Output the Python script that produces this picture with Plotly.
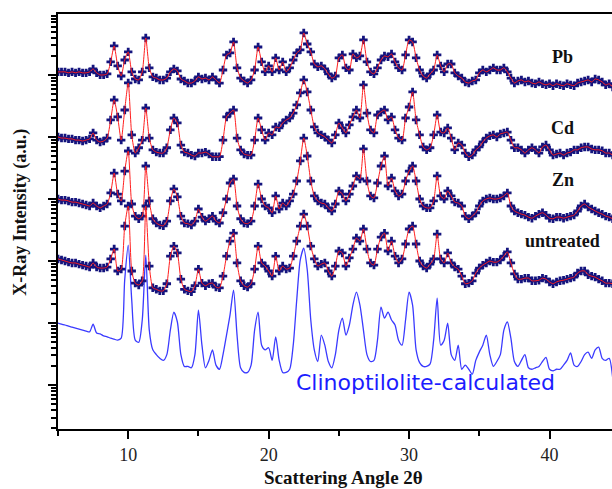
import plotly.graph_objects as go

# 2-theta sampling grid (degrees), 0.25 deg step from 5.0 to 44.5
two_theta = [5.0 + 0.25 * i for i in range(159)]

# Intensities (counts, arbitrary units)
pb_counts = [
    112,112,112,108,112,108,112,108,
    108,112,125,108,100,100,104,162,
    293,140,96,174,235,112,86,83,
    112,394,130,93,89,83,83,89,
    112,125,116,86,80,74,74,80,
    93,86,89,83,93,83,74,120,
    210,226,340,130,89,80,74,83,
    120,282,162,112,140,112,188,120,
    162,112,130,174,226,253,475,315,
    235,150,135,140,125,104,89,96,
    188,210,130,120,218,188,202,366,
    162,112,104,130,174,202,195,218,
    162,130,120,210,366,340,188,120,
    96,89,104,120,210,140,112,150,
    150,108,96,89,77,74,80,83,
    108,120,112,120,130,120,120,130,
    112,89,74,80,83,77,80,74,
    72,77,72,69,72,67,72,69,
    67,72,69,67,74,77,80,83,
    77,86,83,77,69,72,64,
]

cd_counts = [
    100,96,96,93,93,89,89,86,
    89,93,116,89,83,86,96,188,
    394,210,89,272,742,108,55,67,
    89,293,96,62,57,55,55,67,
    130,202,168,74,57,55,51,49,
    55,55,57,53,48,48,48,89,
    210,243,272,96,62,53,51,51,
    89,202,130,89,116,108,145,140,
    168,188,202,243,328,512,830,531,
    272,145,116,108,100,89,80,108,
    168,140,116,156,210,272,202,689,
    243,130,116,226,253,272,188,210,
    130,96,89,202,304,531,188,108,
    69,62,67,108,226,120,116,140,
    96,62,80,74,55,48,51,62,
    69,83,96,104,108,100,112,116,
    120,89,67,67,62,55,62,67,
    62,55,69,74,62,51,53,55,
    51,55,57,62,62,67,69,69,
    64,62,62,60,55,55,51,
]

zn_counts = [
    100,96,96,93,89,89,86,83,
    80,77,86,77,72,77,83,125,
    262,120,93,282,594,83,53,48,
    53,340,93,48,41,38,37,44,
    93,145,108,53,41,40,38,44,
    69,51,44,48,53,44,41,60,
    100,181,210,77,48,41,40,44,
    77,174,100,77,72,60,112,69,
    86,77,93,120,195,410,960,493,
    195,112,93,86,83,72,64,83,
    135,120,93,120,162,235,210,640,
    195,112,104,181,340,493,162,218,
    135,112,120,195,282,340,195,100,
    77,72,72,93,235,112,100,135,
    112,89,86,77,53,48,53,60,
    77,93,100,104,100,100,104,112,
    125,77,64,60,57,55,51,49,
    53,57,60,55,49,48,51,51,
    49,51,53,55,64,77,83,74,
    69,64,60,57,53,51,48,
]

untreated_counts = [
    108,104,100,96,93,93,89,86,
    83,80,93,80,77,77,80,108,
    156,69,74,366,770,69,44,41,
    48,770,83,37,35,33,33,43,
    120,174,135,51,35,33,32,40,
    74,44,40,43,44,38,37,57,
    120,210,282,93,48,40,38,43,
    74,174,93,83,69,57,120,69,
    83,74,77,120,210,366,572,366,
    174,108,83,89,93,69,57,83,
    145,135,83,112,156,235,210,328,
    156,93,86,156,243,282,145,210,
    120,93,108,188,328,366,188,100,
    83,77,89,108,272,108,93,135,
    93,80,74,57,43,44,48,64,
    77,86,93,100,96,96,104,120,
    140,93,62,51,51,53,53,48,
    48,49,53,51,46,43,46,48,
    49,51,53,55,64,69,69,60,
    57,55,51,48,44,44,43,
]

calc_counts = [
    100,96,93,89,86,83,80,77,
    74,72,96,69,67,62,60,57,
    55,53,57,493,1800,235,53,49,
    112,1245,77,37,31,27,25,31,
    77,150,104,31,20,20,19,31,
    162,44,19,25,37,21,18,31,
    64,135,340,64,19,16,16,21,
    77,150,44,37,40,25,60,25,
    16,16,18,44,235,1034,1614,715,
    112,37,24,64,44,24,19,31,
    77,120,64,93,195,315,195,77,
    31,24,25,53,181,120,150,112,
    93,53,44,112,315,195,37,23,
    20,20,22,53,253,44,53,100,
    31,25,44,18,21,18,15,25,
    34,44,64,31,20,24,31,77,
    104,57,24,20,25,31,19,18,
    19,20,24,28,18,17,18,18,
    21,25,33,21,20,24,31,34,
    27,37,41,27,25,27,13,
]

series_names = ["Pb", "Cd", "Zn", "untreated"]
observed = [pb_counts, cd_counts, zn_counts, untreated_counts]
# vertical stacking factors on the log axis
stack_factor = [1e4, 1e3, 1e2, 1e1]
calc_factor = 1.0

x_major = [10, 20, 30, 40]
x_minor = [5, 15, 25, 35]
y_major = [1e1, 1e2, 1e3, 1e4, 1e5, 1e6]
y_minor = [k * d for d in [1, 10, 100, 1e3, 1e4, 1e5, 1e6] for k in range(2, 10)]

for s in [two_theta] + observed + [calc_counts]:
    assert len(s) == 159

fig = go.Figure()

fig.add_trace(go.Scatter(
    x=two_theta, y=[v * calc_factor for v in calc_counts], mode="lines",
    line=dict(color="#3a3aff", width=1.3, shape="spline", smoothing=0.7),
    hoverinfo="skip"))

for name, vals, f in zip(series_names, observed, stack_factor):
    yv = [v * f for v in vals]
    fig.add_trace(go.Scatter(
        x=two_theta, y=yv, mode="markers", name=name,
        marker=dict(symbol="cross", size=7, color="#14147e",
                    line=dict(width=0))))
    fig.add_trace(go.Scatter(
        x=two_theta, y=yv, mode="lines", name=name + " fit",
        line=dict(color="#ff1e1e", width=1.0, shape="spline", smoothing=0.6)))

serif = "Liberation Serif, Times New Roman, serif"

labels = [("Pb", 0.911, 0.896), ("Cd", 0.911, 0.725),
          ("Zn", 0.911, 0.600), ("untreated", 0.911, 0.453)]
for txt, px, py in labels:
    fig.add_annotation(x=px, y=py, xref="paper", yref="paper",
                       text="<b>" + txt + "</b>",
                       showarrow=False, xanchor="center", yanchor="middle",
                       font=dict(family=serif, size=18, color="#111"))

fig.add_annotation(x=0.664, y=0.112, xref="paper", yref="paper",
                   text="Clinoptilolite-calculated", showarrow=False,
                   xanchor="center", yanchor="middle",
                   font=dict(family="DejaVu Sans", size=22, color="#1c1cff"))

fig.add_annotation(x=-0.067, y=0.523, xref="paper", yref="paper",
                   text="<b>X-Ray Intensity (a.u.)</b>", showarrow=False,
                   textangle=-90, xanchor="center", yanchor="middle",
                   font=dict(family=serif, size=18, color="#111"))

fig.add_annotation(x=0.515, y=-0.116, xref="paper", yref="paper",
                   text="<b>Scattering Angle 2θ</b>", showarrow=False,
                   xanchor="center", yanchor="middle",
                   font=dict(family=serif, size=19, color="#111"))

fig.update_layout(
    width=612, height=489,
    margin=dict(l=58, r=0, t=14, b=60),
    paper_bgcolor="white", plot_bgcolor="white",
    showlegend=False,
    xaxis=dict(range=[5, 44.45], showline=True, linecolor="black", linewidth=2,
               mirror=True, showgrid=False, zeroline=False,
               tickmode="array", tickvals=x_major, ticks="outside",
               ticklen=8, tickwidth=2, tickcolor="black",
               tickfont=dict(family=serif, size=18, color="#222"),
               minor=dict(tickmode="array", tickvals=x_minor, ticks="outside",
                          ticklen=5, tickwidth=1.5, tickcolor="black",
                          showgrid=False)),
    yaxis=dict(type="log", range=[0.292, 6.982], showline=True,
               linecolor="black", linewidth=2, showgrid=False, zeroline=False,
               tickmode="array", tickvals=y_major, ticks="outside",
               ticklen=8, tickwidth=2, tickcolor="black",
               showticklabels=False,
               minor=dict(tickmode="array", tickvals=y_minor, ticks="outside",
                          ticklen=5, tickwidth=1.5, tickcolor="black",
                          showgrid=False)),
)

fig.write_html("out.html",
               config={"displayModeBar": False},
               post_script="document.body.style.margin='0';"
                           "document.body.style.overflow='hidden';")
